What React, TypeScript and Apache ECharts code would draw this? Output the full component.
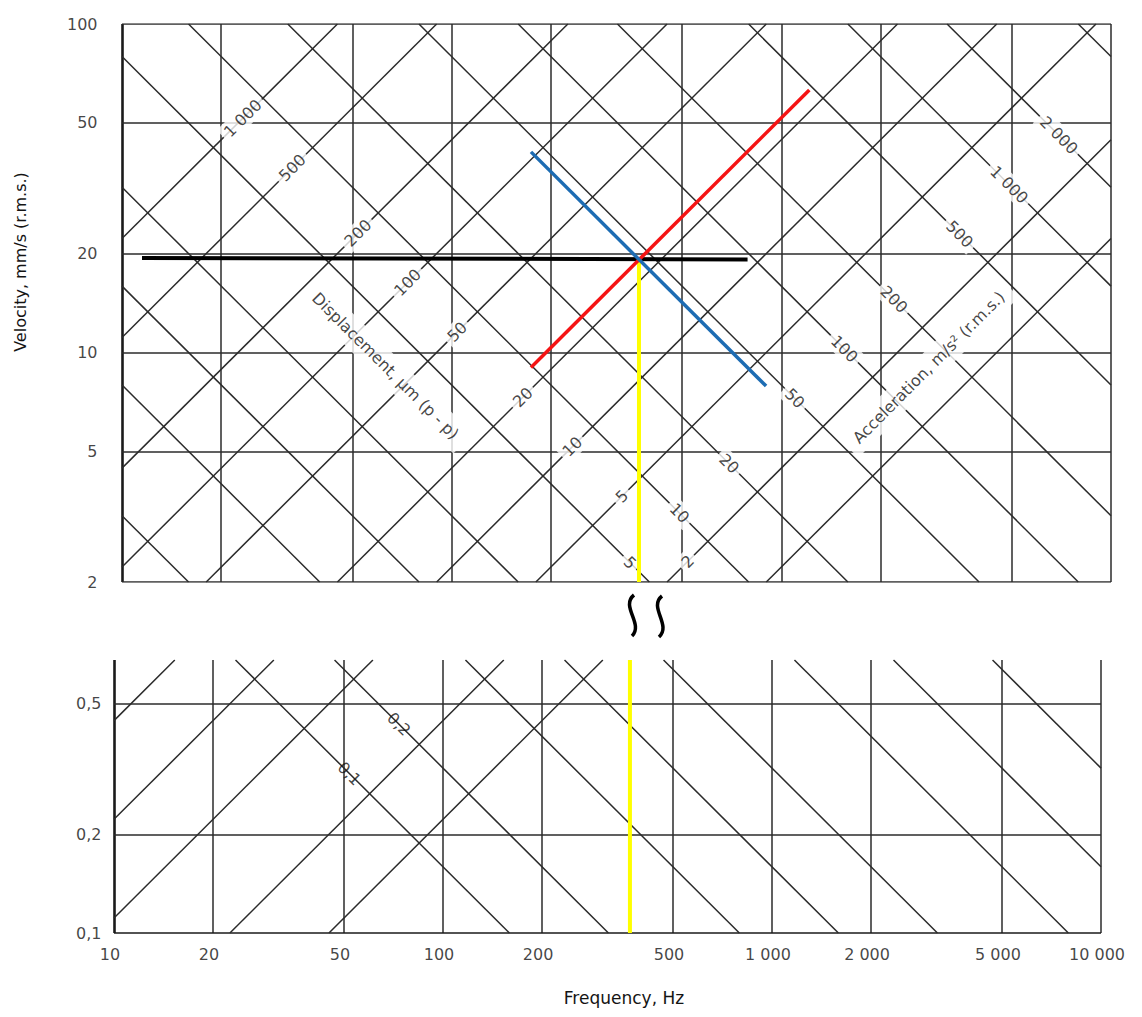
import React, { useEffect, useRef } from 'react';
import * as echarts from 'echarts';

// ---------- axis ticks ----------
const freqTicks = [10, 20, 50, 100, 200, 500, 1000, 2000, 5000, 10000];
const freqTickLabels = ['10', '20', '50', '100', '200', '500', '1 000', '2 000', '5 000', '10 000'];
const velTicksTop = [100, 50, 20, 10, 5, 2];
const velTickLabelsTop = ['100', '50', '20', '10', '5', '2'];
const velTicksBottom = [0.5, 0.2, 0.1];
const velTickLabelsBottom = ['0,5', '0,2', '0,1'];

const freqRange = [10, 10000];
const velRangeTop = [2, 100];
const velRangeBottom = [0.1, 0.68];

// ---------- constant displacement lines (µm, peak-to-peak) ----------
const dispLevels = [1, 2, 5, 10, 20, 50, 100, 200, 500, 1000];
const dispLabelLevels = [1000, 500, 200, 100, 50, 20, 10, 5, 2];
const dispLabelTexts = ['1 000', '500', '200', '100', '50', '20', '10', '5', '2'];

// ---------- constant acceleration lines (m/s², r.m.s.) ----------
const accLevels = [0.1, 0.2, 0.5, 1, 2, 5, 10, 20, 50, 100, 200, 500, 1000, 2000, 5000];
const accLabelLevelsTop = [2000, 1000, 500, 200, 100, 50, 20, 10, 5];
const accLabelTextsTop = ['2 000', '1 000', '500', '200', '100', '50', '20', '10', '5'];
const accLabelLevelsBottom = [0.2, 0.1];
const accLabelTextsBottom = ['0,2', '0,1'];

// ---------- highlighted reading lines [frequency Hz, velocity mm/s] ----------
const blackLine = [[11.5, 19.4], [790, 19.2]];
const redLine = [[174, 9.0], [1216, 63]];
const blueLine = [[174, 40.8], [899, 7.9]];
const yellowTop = [[370, 19.2], [370, 2]];
const yellowBottom = [[370, 0.68], [370, 0.1]];

// physics of the nomogram: v[mm/s rms] = DISP_K * f * d[µm p-p] ; v = ACC_K * a / f
const DISP_K = (2 * Math.PI) / (2 * Math.SQRT2) / 1000;
const ACC_K = 1000 / (2 * Math.PI);
// where the line labels sit (v*f for displacement labels, v/f for acceleration labels)
const DISP_LABEL_BAND = 1200;
const ACC_LABEL_BAND_TOP = 0.0066;
const ACC_LABEL_BAND_BOTTOM = 0.0059;

const FONT = 'DejaVu Sans';
const LINE_COLOR = '#2b2b2b';
const TEXT_COLOR = '#141414';

function dispSeg(d: number, fr: number[], vr: number[]) {
  const k = DISP_K * d;
  const f1 = Math.max(fr[0], vr[0] / k);
  const f2 = Math.min(fr[1], vr[1] / k);
  return f1 < f2 ? [[f1, k * f1], [f2, k * f2]] : null;
}
function accSeg(a: number, fr: number[], vr: number[]) {
  const c = ACC_K * a;
  const f1 = Math.max(fr[0], c / vr[1]);
  const f2 = Math.min(fr[1], c / vr[0]);
  return f1 < f2 ? [[f1, c / f1], [f2, c / f2]] : null;
}

function gridLineData(vTicks: number[], vr: number[], thickBottom: boolean) {
  const data: any[] = [];
  freqTicks.forEach((f) => {
    const item: any = { coords: [[f, vr[0]], [f, vr[1]]] };
    if (f === 10) item.lineStyle = { width: 2.6, color: '#1a1a1a' };
    data.push(item);
  });
  vTicks.forEach((v) => {
    const item: any = { coords: [[freqRange[0], v], [freqRange[1], v]] };
    if (thickBottom && v === vr[0]) item.lineStyle = { width: 2.6, color: '#1a1a1a' };
    data.push(item);
  });
  return data;
}

function diagData(vr: number[]) {
  const data: any[] = [];
  dispLevels.forEach((d) => {
    const s = dispSeg(d, freqRange, vr);
    if (s) data.push({ coords: s });
  });
  accLevels.forEach((a) => {
    const s = accSeg(a, freqRange, vr);
    if (s) data.push({ coords: s });
  });
  return data;
}

const lineLabelStyle = {
  show: true,
  position: 'inside',
  formatter: '{b}',
  color: TEXT_COLOR,
  fontFamily: FONT,
  fontSize: 16,
  backgroundColor: '#fff',
  padding: [2, 4],
};

export default function App() {
  const ref = useRef<HTMLDivElement>(null);

  useEffect(() => {
    if (!ref.current) return;
    const chart = echarts.init(ref.current, undefined, { renderer: 'svg' });

    const dispLabels = dispLabelLevels.map((d, i) => {
      const k = DISP_K * d;
      const f = Math.sqrt(DISP_LABEL_BAND / k);
      return { name: dispLabelTexts[i], value: [f, k * f], label: { rotate: 45 } };
    });
    const accLabelsTop = accLabelLevelsTop.map((a, i) => {
      const c = ACC_K * a;
      const f = Math.sqrt(c / ACC_LABEL_BAND_TOP);
      return { name: accLabelTextsTop[i], value: [f, c / f], label: { rotate: -45 } };
    });
    const accLabelsBottom = accLabelLevelsBottom.map((a, i) => {
      const c = ACC_K * a;
      const f = Math.sqrt(c / ACC_LABEL_BAND_BOTTOM);
      return { name: accLabelTextsBottom[i], value: [f, c / f], label: { rotate: -45, backgroundColor: 'transparent' } };
    });

    const tickLabelStyle = { color: TEXT_COLOR, fontFamily: FONT, fontSize: 16 };

    const option: any = {
      animation: false,
      backgroundColor: '#fff',
      grid: [
        { left: 122, top: 24, width: 989, height: 558 },
        { left: 114, top: 660, width: 987, height: 273 },
      ],
      xAxis: [
        { gridIndex: 0, type: 'log', logBase: 10, min: freqRange[0], max: freqRange[1], show: false },
        { gridIndex: 1, type: 'log', logBase: 10, min: freqRange[0], max: freqRange[1], show: false },
      ],
      yAxis: [
        { gridIndex: 0, type: 'log', logBase: 10, min: velRangeTop[0], max: velRangeTop[1], show: false },
        { gridIndex: 1, type: 'log', logBase: 10, min: velRangeBottom[0], max: velRangeBottom[1], show: false },
      ],
      graphic: [
        {
          type: 'text', x: 20, y: 262, rotation: Math.PI / 2,
          style: { text: 'Velocity, mm/s (r.m.s.)', font: `16px "${FONT}"`, fill: TEXT_COLOR, align: 'center', verticalAlign: 'middle' },
        },
        {
          type: 'text', x: 624, y: 998,
          style: { text: 'Frequency, Hz', font: `17px "${FONT}"`, fill: TEXT_COLOR, align: 'center', verticalAlign: 'middle' },
        },
        {
          type: 'bezierCurve',
          shape: { x1: 634, y1: 595, x2: 632, y2: 636, cpx1: 620, cpy1: 606, cpx2: 644, cpy2: 624 },
          style: { stroke: '#000', lineWidth: 3.5, fill: 'none' },
        },
        {
          type: 'bezierCurve',
          shape: { x1: 662, y1: 596, x2: 659, y2: 637, cpx1: 648, cpy1: 607, cpx2: 672, cpy2: 625 },
          style: { stroke: '#000', lineWidth: 3.5, fill: 'none' },
        },
      ],
      series: [
        {
          type: 'lines', coordinateSystem: 'cartesian2d', xAxisIndex: 0, yAxisIndex: 0, z: 2, silent: true,
          lineStyle: { color: LINE_COLOR, width: 1.5, opacity: 1 },
          data: gridLineData(velTicksTop, velRangeTop, false),
        },
        {
          type: 'lines', coordinateSystem: 'cartesian2d', xAxisIndex: 1, yAxisIndex: 1, z: 2, silent: true,
          lineStyle: { color: LINE_COLOR, width: 1.5, opacity: 1 },
          data: gridLineData(velTicksBottom, velRangeBottom, true),
        },
        {
          type: 'lines', coordinateSystem: 'cartesian2d', xAxisIndex: 0, yAxisIndex: 0, z: 2, silent: true,
          lineStyle: { color: LINE_COLOR, width: 1.5, opacity: 1 },
          data: diagData(velRangeTop),
        },
        {
          type: 'lines', coordinateSystem: 'cartesian2d', xAxisIndex: 1, yAxisIndex: 1, z: 2, silent: true,
          lineStyle: { color: LINE_COLOR, width: 1.5, opacity: 1 },
          data: diagData(velRangeBottom),
        },
        {
          type: 'scatter', xAxisIndex: 0, yAxisIndex: 0, z: 4, silent: true, clip: false,
          symbolSize: 1, itemStyle: { color: 'rgba(0,0,0,0)' },
          label: lineLabelStyle,
          data: [
            ...dispLabels,
            ...accLabelsTop,
            { name: 'Displacement, µm (p - p)', value: [63, 9.1], label: { rotate: -45, padding: [6, 10] } },
            { name: 'Acceleration, m/s² (r.m.s.)', value: [2800, 9.0], label: { rotate: 45, padding: [6, 10] } },
          ],
        },
        {
          type: 'scatter', xAxisIndex: 1, yAxisIndex: 1, z: 4, silent: true, clip: false,
          symbolSize: 1, itemStyle: { color: 'rgba(0,0,0,0)' },
          label: lineLabelStyle,
          data: accLabelsBottom,
        },
        {
          type: 'scatter', xAxisIndex: 0, yAxisIndex: 0, z: 4, silent: true, clip: false,
          symbolSize: 1, itemStyle: { color: 'rgba(0,0,0,0)' },
          label: { show: true, position: 'left', distance: 24, formatter: '{b}', ...tickLabelStyle },
          data: velTicksTop.map((v, i) => ({ name: velTickLabelsTop[i], value: [freqRange[0], v] })),
        },
        {
          type: 'scatter', xAxisIndex: 1, yAxisIndex: 1, z: 4, silent: true, clip: false,
          symbolSize: 1, itemStyle: { color: 'rgba(0,0,0,0)' },
          label: { show: true, position: 'left', distance: 12, formatter: '{b}', ...tickLabelStyle },
          data: velTicksBottom.map((v, i) => ({ name: velTickLabelsBottom[i], value: [freqRange[0], v] })),
        },
        {
          type: 'scatter', xAxisIndex: 1, yAxisIndex: 1, z: 4, silent: true, clip: false,
          symbolSize: 1, itemStyle: { color: 'rgba(0,0,0,0)' },
          label: { show: true, position: 'bottom', distance: 13, offset: [-4, 0], formatter: '{b}', ...tickLabelStyle },
          data: freqTicks.map((f, i) => ({ name: freqTickLabels[i], value: [f, velRangeBottom[0]] })),
        },
        {
          type: 'line', xAxisIndex: 0, yAxisIndex: 0, z: 10, symbol: 'none', silent: true,
          lineStyle: { color: '#000', width: 4 }, data: blackLine,
        },
        {
          type: 'line', xAxisIndex: 0, yAxisIndex: 0, z: 11, symbol: 'none', silent: true,
          lineStyle: { color: '#f51414', width: 3.5 }, data: redLine,
        },
        {
          type: 'line', xAxisIndex: 0, yAxisIndex: 0, z: 11, symbol: 'none', silent: true,
          lineStyle: { color: '#1d6cb3', width: 3.5 }, data: blueLine,
        },
        {
          type: 'line', xAxisIndex: 0, yAxisIndex: 0, z: 9, symbol: 'none', silent: true,
          lineStyle: { color: '#ffff00', width: 4 }, data: yellowTop,
        },
        {
          type: 'line', xAxisIndex: 1, yAxisIndex: 1, z: 9, symbol: 'none', silent: true,
          lineStyle: { color: '#ffff00', width: 4 }, data: yellowBottom,
        },
      ],
    };
    chart.setOption(option);
    return () => chart.dispose();
  }, []);

  return <div ref={ref} style={{ position: 'absolute', left: 0, top: 0, width: 1142, height: 1017 }} />;
}
